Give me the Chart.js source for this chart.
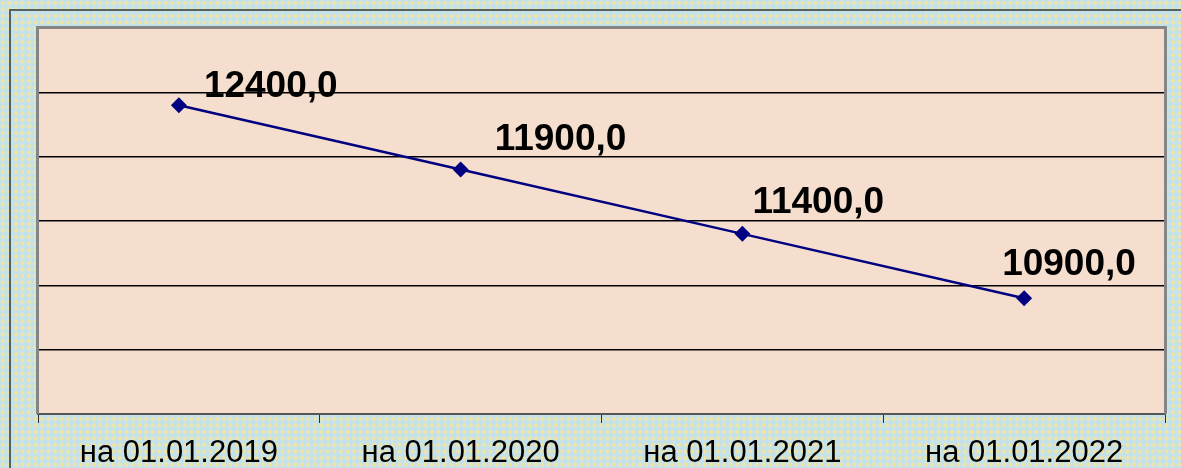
<!DOCTYPE html>
<html>
<head>
<meta charset="utf-8">
<script src="https://cdn.jsdelivr.net/npm/chart.js@4/dist/chart.umd.min.js"></script>
<style>
  html, body { margin: 0; padding: 0; }
  body {
    width: 1181px; height: 468px; overflow: hidden;
    background-color: #c6e2e9;
    background-image: radial-gradient(circle at 3px 3px, #f4e49c 0, #f4e49c 1.5px, rgba(244,228,156,0) 2.2px);
    background-size: 6.5px 6.5px;
  }
  #wrap { position: absolute; left: 0; top: 0; width: 1181px; height: 468px; }
</style>
</head>
<body>
<div id="wrap"><canvas id="chart" width="1181" height="468"></canvas></div>
<script>
// Dates of the measurements and their values
const categories = ['на 01.01.2019', 'на 01.01.2020', 'на 01.01.2021', 'на 01.01.2022'];
const values = [12400.0, 11900.0, 11400.0, 10900.0];
const valueLabels = ['12400,0', '11900,0', '11400,0', '10900,0'];

// Frame around the whole chart and the tinted plot area
const framePlugin = {
  id: 'frame',
  beforeDraw(chart) {
    const { ctx, chartArea: a } = chart;
    ctx.save();
    ctx.strokeStyle = '#56625f';
    ctx.lineWidth = 2;
    ctx.beginPath();
    ctx.moveTo(10, chart.height + 5);
    ctx.lineTo(10, 10);
    ctx.lineTo(chart.width + 5, 10);
    ctx.stroke();
    ctx.fillStyle = '#f6dece';
    ctx.fillRect(a.left, a.top, a.right - a.left, a.bottom - a.top);
    ctx.restore();
  },
  afterDatasetsDraw(chart) {
    const { ctx, chartArea: a } = chart;
    ctx.save();
    ctx.strokeStyle = '#858585';
    ctx.lineWidth = 3;
    ctx.beginPath();
    ctx.moveTo(a.left - 0.5, a.bottom);
    ctx.lineTo(a.left - 0.5, a.top - 0.5);
    ctx.lineTo(a.right + 0.5, a.top - 0.5);
    ctx.lineTo(a.right + 0.5, a.bottom);
    ctx.stroke();
    ctx.restore();
  }
};

// Bold value captions placed beside each marker
const labelShift = { dx: [25, 34, 10, -22], dy: [-8, -20, -21, -23] };
const valueLabelPlugin = {
  id: 'valueLabels',
  afterDatasetsDraw(chart) {
    const { ctx } = chart;
    const meta = chart.getDatasetMeta(0);
    ctx.save();
    ctx.font = "bold 37px 'Liberation Sans', Arial, sans-serif";
    ctx.fillStyle = '#000000';
    ctx.textAlign = 'left';
    ctx.textBaseline = 'alphabetic';
    meta.data.forEach((pt, i) => {
      ctx.fillText(valueLabels[i], pt.x + labelShift.dx[i], pt.y + labelShift.dy[i]);
    });
    ctx.restore();
  }
};

new Chart(document.getElementById('chart'), {
  type: 'line',
  data: {
    labels: categories,
    datasets: [{
      data: values,
      borderColor: '#000080',
      borderWidth: 2.5,
      backgroundColor: '#000080',
      pointStyle: 'rectRot',
      pointRadius: 8,
      pointHoverRadius: 8,
      pointBorderWidth: 0,
      tension: 0,
      fill: false
    }]
  },
  options: {
    responsive: false,
    animation: false,
    events: [],
    layout: { padding: { left: 38, top: 28, right: 16, bottom: -16 } },
    plugins: { legend: { display: false }, tooltip: { enabled: false } },
    scales: {
      x: {
        offset: true,
        grid: {
          offset: true,
          drawOnChartArea: false,
          drawTicks: true,
          tickLength: 9,
          color: '#303030',
          lineWidth: 1
        },
        border: { display: true, color: '#555555', width: 2 },
        ticks: {
          color: '#000000',
          padding: 15,
          font: { family: "'Liberation Sans', Arial, sans-serif", size: 31, lineHeight: 1.0 },
          maxRotation: 0,
          autoSkip: false
        }
      },
      y: {
        min: 10000,
        max: 13000,
        ticks: { display: false, stepSize: 500 },
        grid: { color: '#000000', lineWidth: 1.5, drawTicks: false },
        border: { display: false }
      }
    }
  },
  plugins: [framePlugin, valueLabelPlugin]
});
</script>
</body>
</html>
